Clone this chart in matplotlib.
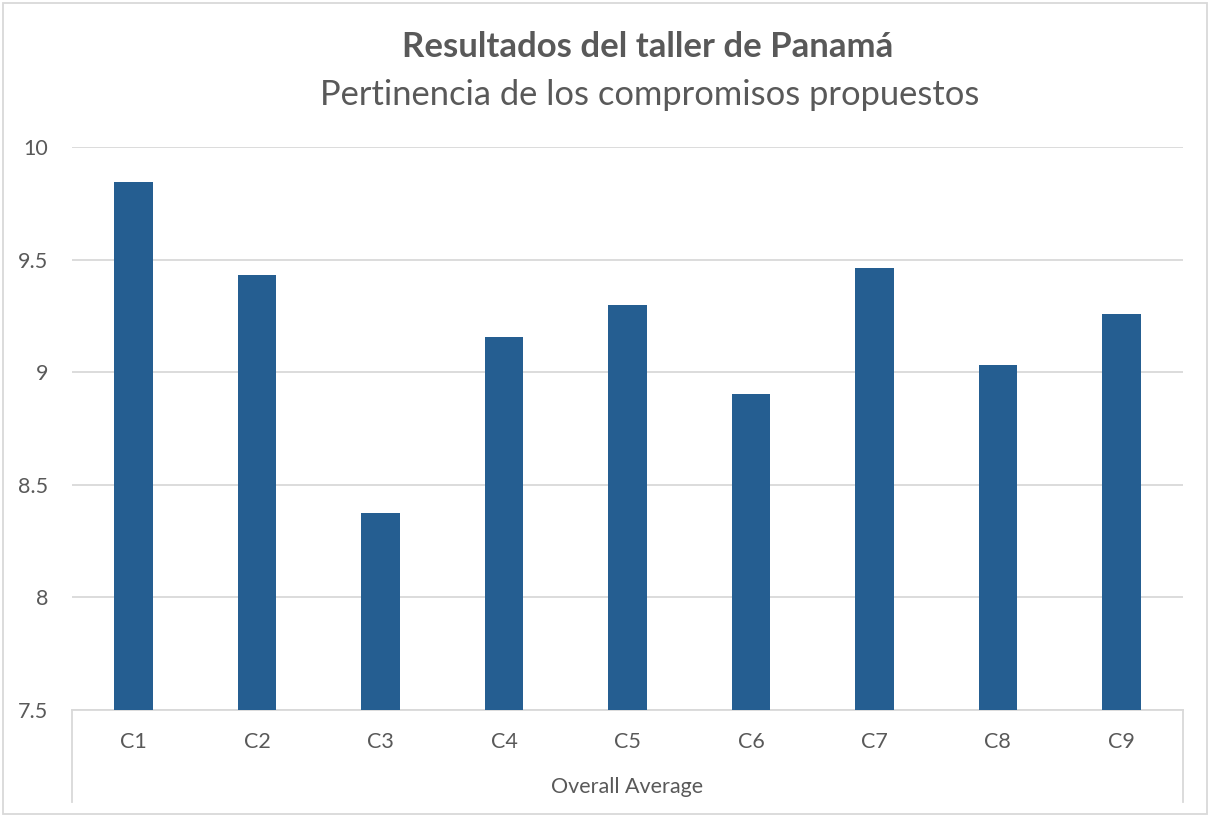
import matplotlib.pyplot as plt
from matplotlib.lines import Line2D
from matplotlib.patches import Rectangle
import numpy as np

plt.rcParams['font.family'] = ['Lato', 'DejaVu Sans']

categorias = ['C1', 'C2', 'C3', 'C4', 'C5', 'C6', 'C7', 'C8', 'C9']
promedio = [9.845, 9.433, 8.373, 9.157, 9.299, 8.905, 9.463, 9.032, 9.26]
yticks = [7.5, 8, 8.5, 9, 9.5, 10]
ytick_labels = ['7.5', '8', '8.5', '9', '9.5', '10']

gris = '#595959'
linea = '#d9d9d9'

fig = plt.figure(figsize=(12.1, 8.16), dpi=100)
ax = fig.add_axes([72/1210, 1-710/816, 1111/1210, 563/816])

x = np.arange(len(categorias))
ax.bar(x, promedio, width=0.313, color='#255E91', zorder=3)

ax.set_xlim(-0.5, len(categorias)-0.5)
ax.set_ylim(7.5, 10)
ax.set_yticks(yticks)
ax.set_yticklabels(ytick_labels)
ax.set_xticks(x)
ax.set_xticklabels(categorias)
ax.grid(axis='y', color=linea, linewidth=1.3, zorder=0)
for s in ['top', 'left', 'right']:
    ax.spines[s].set_visible(False)
ax.spines['bottom'].set_color(linea)
ax.spines['bottom'].set_linewidth(1.3)
ax.tick_params(axis='both', length=0, labelsize=15.5, colors=gris)
ax.tick_params(axis='x', pad=16)
ax.tick_params(axis='y', pad=17)

# separadores del eje de categorias
for xf in [72/1210, 1183/1210]:
    fig.add_artist(Line2D([xf, xf], [1-710/816, 1-802/816], color=linea, linewidth=1.3))
fig.text(627/1210, 1-787/816, 'Overall Average', ha='center', va='center', fontsize=15.5, color=gris)

fig.text(648/1210, 1-47/816, 'Resultados del taller de Panamá', ha='center', va='center',
         fontsize=25, fontweight='bold', color=gris)
fig.text(650/1210, 1-95/816, 'Pertinencia de los compromisos propuestos', ha='center', va='center',
         fontsize=24.8, color=gris)

# borde del grafico
fig.add_artist(Rectangle((3/1210, 2/816), 1204/1210, 811/816, transform=fig.transFigure,
                         fill=False, edgecolor=linea, linewidth=1.3))

fig.savefig('out.png', dpi=100)
